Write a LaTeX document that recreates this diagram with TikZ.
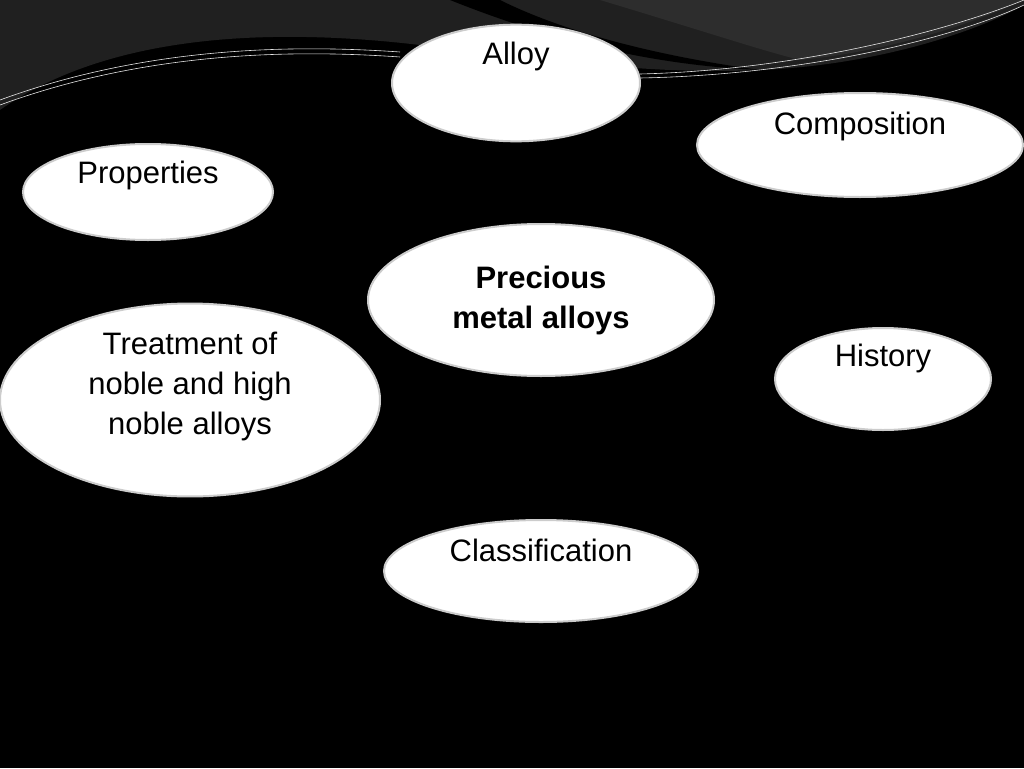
\documentclass[tikz,border=0pt]{standalone}
\usepackage{fontspec}
\setmainfont{Liberation Sans}
\usetikzlibrary{shapes.geometric}
\begin{document}
\begin{tikzpicture}[x=1pt,y=-1pt,
  bub/.style={ellipse,fill=white,draw=gray!40,line width=2pt,inner sep=0pt,align=center,font=\fontsize{31}{36}\selectfont},
  wl/.style={draw=white!80!gray,line width=0.6pt}]
\fill[black] (0,0) rectangle (1024,768);
\useasboundingbox (0,0) rectangle (1024,768);
\fill[gray!25!black] (0,0) -- (0,110) .. controls (100,40) and (250,25) .. (420,45) .. controls (550,60) and (650,75) .. (760,70) .. controls (880,65) and (980,30) .. (1024,5) -- (1024,0) -- cycle;
\fill[gray!35!black] (600,0) .. controls (700,30) and (760,50) .. (800,60) .. controls (900,50) and (980,20) .. (1024,0) -- cycle;
\fill[black] (450,0) .. controls (550,40) and (650,65) .. (760,70) .. controls (650,55) and (560,30) .. (500,0) -- cycle;
\draw[wl] (0,105) .. controls (150,50) and (300,50) .. (400,57);
\draw[wl] (0,100) .. controls (150,45) and (300,45) .. (400,52);
\draw[wl] (640,78) .. controls (800,75) and (950,40) .. (1024,5);
\draw[wl] (640,74) .. controls (800,70) and (950,30) .. (1024,0);
\node[bub,minimum width=248,minimum height=100] (alloy) at (516,83) {Alloy\\[24pt]};
\node[bub,minimum width=326,minimum height=104] (comp) at (860,145) {Composition\\[8pt]};
\node[bub,minimum width=250,minimum height=96] (prop) at (148,192) {Properties\\[4pt]};
\node[bub,minimum width=346,minimum height=152,font=\bfseries\fontsize{31}{40}\selectfont] (prec) at (541,300) {Precious\\metal alloys};
\node[bub,minimum width=380,minimum height=160,font=\fontsize{31}{40}\selectfont] (treat) at (190,400) {Treatment of\\noble and high\\noble alloys\\[-6pt]};
\node[bub,minimum width=216,minimum height=102] (hist) at (883,379) {History\\[12pt]};
\node[bub,minimum width=314,minimum height=102] (cls) at (541,571) {Classification\\[6pt]};
\end{tikzpicture}
\end{document}
